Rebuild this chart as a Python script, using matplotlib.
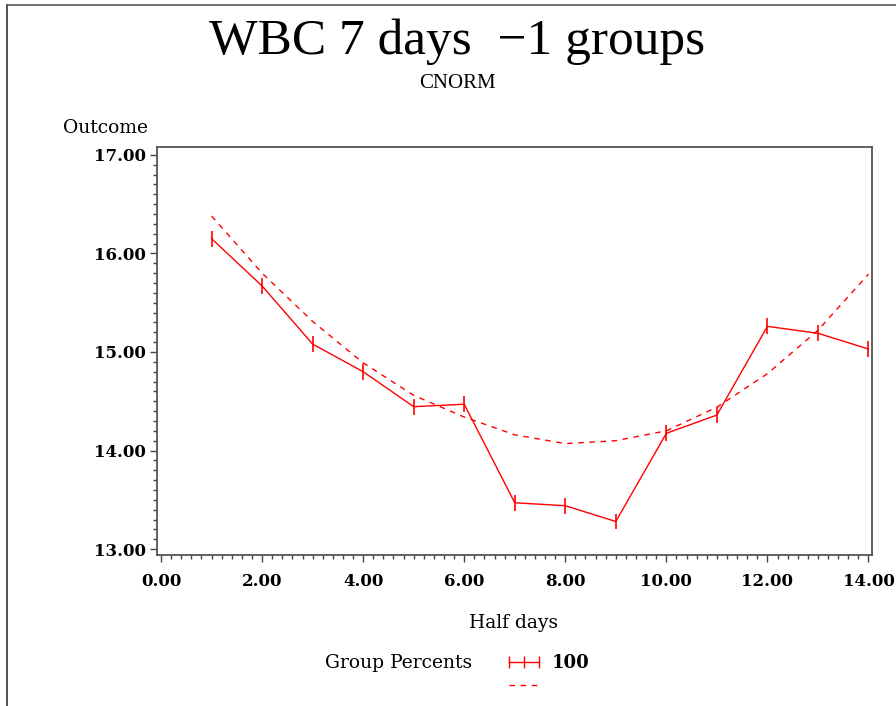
import matplotlib
matplotlib.use("Agg")
import matplotlib.pyplot as plt
from matplotlib.lines import Line2D
from matplotlib.ticker import MultipleLocator, FormatStrFormatter

# Data
half_days = [1, 2, 3, 4, 5, 6, 7, 8, 9, 10, 11, 12, 13, 14]
observed = [16.15, 15.67, 15.08, 14.80, 14.445, 14.47, 13.47, 13.44, 13.28, 14.175, 14.36, 15.26, 15.19, 15.03]
err = [0.08] * 14
fitted = [16.38, 15.80, 15.31, 14.89, 14.56, 14.34, 14.16, 14.07, 14.10, 14.20, 14.44, 14.78, 15.22, 15.79]

title = "WBC 7 days  \u22121 groups"
subtitle = "CNORM"
xlabel = "Half days"
ylabel = "Outcome"
legend_title = "Group Percents"
legend_label = "100"

fig = plt.figure(figsize=(8.96, 7.06), dpi=100)
ax = fig.add_axes([157/896, 1-555/706, (872-157)/896, (555-147)/706])

red = "#ff0000"
ax.errorbar(half_days, observed, yerr=err, color=red, lw=1.0, elinewidth=1.2, capsize=0)
ax.plot(half_days, fitted, color=red, lw=1.0, ls=(0, (4, 4)))

ax.set_xlim(-0.08, 14.07)
ax.set_ylim(12.94, 17.08)
ax.xaxis.set_major_locator(MultipleLocator(2))
ax.xaxis.set_minor_locator(MultipleLocator(0.2))
ax.yaxis.set_major_locator(MultipleLocator(1))
ax.yaxis.set_minor_locator(MultipleLocator(0.1))
ax.xaxis.set_major_formatter(FormatStrFormatter("%.2f"))
ax.yaxis.set_major_formatter(FormatStrFormatter("%.2f"))

for lab in ax.get_xticklabels() + ax.get_yticklabels():
    lab.set_fontfamily("DejaVu Serif")
    lab.set_fontweight("bold")
    lab.set_fontsize(12)
ax.tick_params(which="major", direction="out", length=5, width=1, color="#444444", pad=3)
ax.tick_params(which="minor", direction="out", length=3, width=1, color="#444444")
ax.tick_params(axis="x", pad=8)
for sp in ax.spines.values():
    sp.set_color("#555555")
    sp.set_linewidth(1.3)

fig.text(457/896, 1-42/706, title, ha="center", va="center", family="Liberation Serif", fontsize=37)
fig.text(457/896, 1-83/706, subtitle, ha="center", va="center", family="Liberation Serif", fontsize=15)
fig.text(105/896, 1-128/706, ylabel, ha="center", va="center", family="DejaVu Serif", fontsize=13.5)
fig.text(514/896, 1-623/706, xlabel, ha="center", va="center", family="DejaVu Serif", fontsize=13.5)
fig.text(399/896, 1-663/706, legend_title, ha="center", va="center", family="DejaVu Serif", fontsize=13.5)

h1 = Line2D([], [], color=red, lw=1.0, marker="|", markersize=8, markeredgewidth=1.0)
h2 = Line2D([], [], color=red, lw=1.0, ls=(0, (4, 4)))
leg = fig.legend([h1, h2], [legend_label, ""], loc="center left", bbox_to_anchor=(487/896, 1-675/706),
                 frameon=False, numpoints=3, handlelength=2.3, handletextpad=0.4, labelspacing=0.3,
                 prop=dict(family="DejaVu Serif", weight="bold", size=13))

# figure border lines (left & top)
fig.add_artist(Line2D([7/896, 7/896], [0, 1-5/706], transform=fig.transFigure, color="#333333", lw=1.2))
fig.add_artist(Line2D([7/896, 1], [1-5/706, 1-5/706], transform=fig.transFigure, color="#555555", lw=1.2))

fig.savefig("out.png", dpi=100)
